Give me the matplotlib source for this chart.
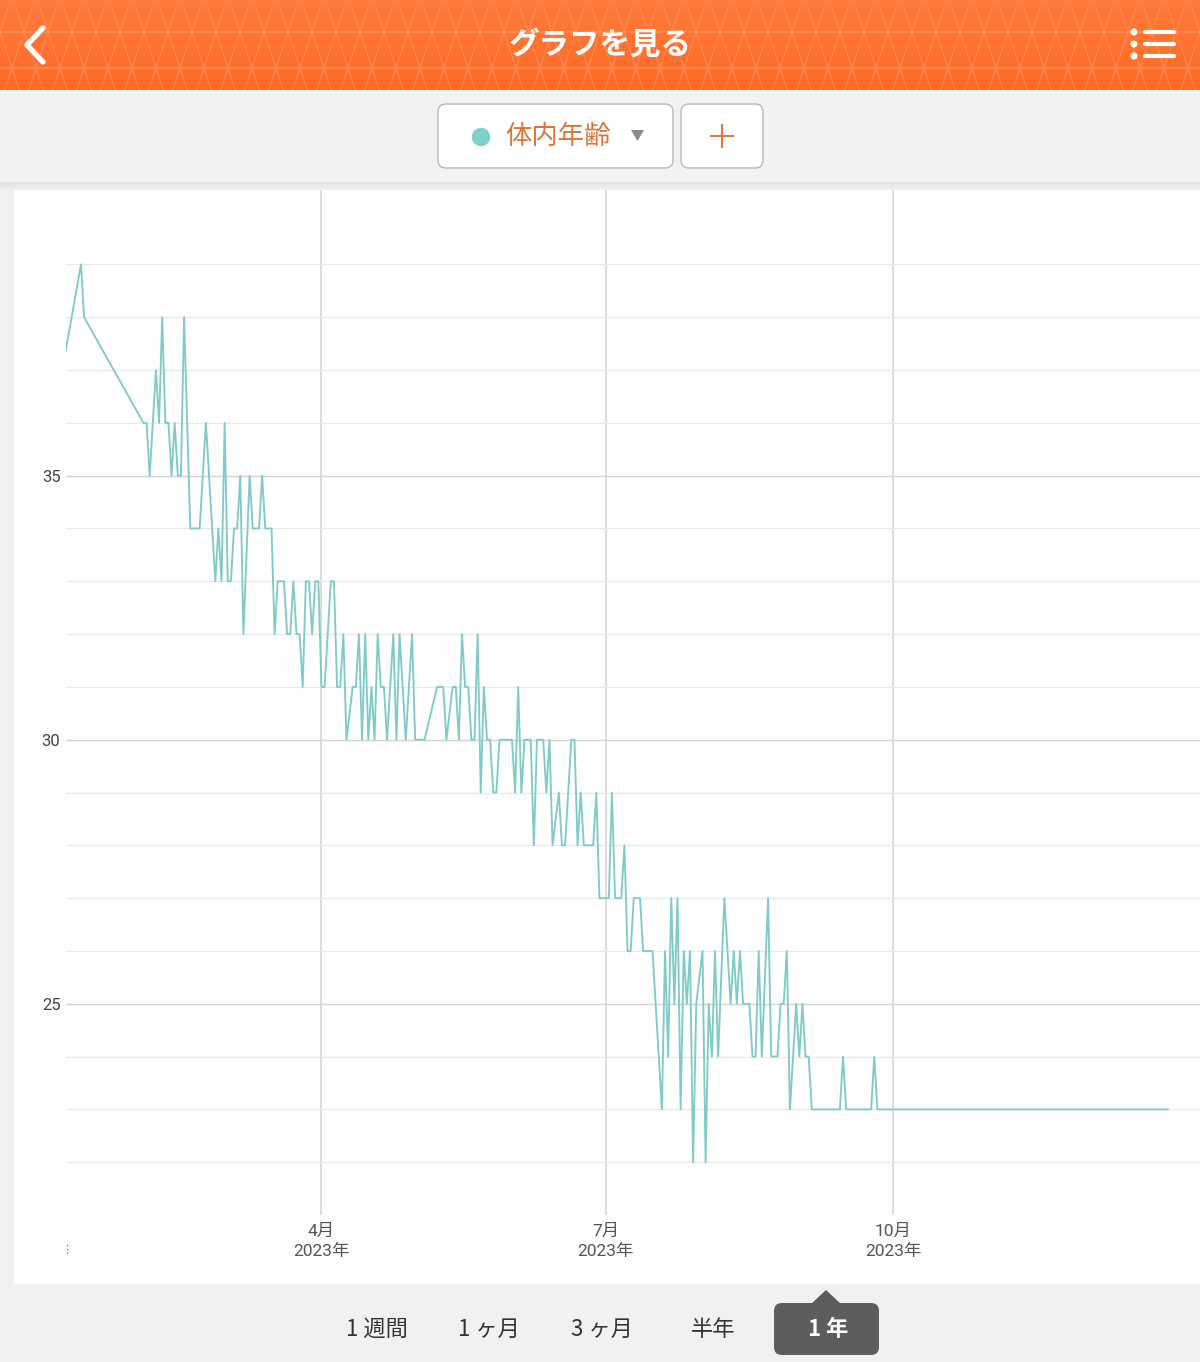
import numpy as np
import matplotlib
matplotlib.use('Agg')
import matplotlib.pyplot as plt
import matplotlib.dates as mdates
from matplotlib.patches import FancyBboxPatch, Rectangle, Circle, Polygon

# ---------------- data ----------------
base_date = '2023-01-01'
# day offsets from base_date
days = [4, 13, 14, 33, 34, 35, 37, 38, 39, 40, 41, 42, 43, 44, 45, 46, 48, 51, 52, 53,
        54, 56, 57, 58, 59, 60, 61, 62, 63, 64, 65, 67, 68, 70, 71, 72, 74, 75, 76, 78,
        79, 80, 81, 82, 83, 84, 85, 86, 87, 88, 89, 90, 91, 93, 94, 95, 96, 97, 98, 100,
        101, 102, 103, 104, 105, 106, 107, 108, 109, 110, 111, 113, 114, 115, 117, 119, 120, 123, 127, 129,
        130, 132, 133, 134, 135, 136, 137, 138, 139, 140, 141, 142, 143, 144, 145, 146, 147, 151, 152, 153,
        154, 155, 157, 158, 159, 161, 162, 163, 164, 166, 167, 168, 170, 171, 172, 173, 174, 177, 178, 179,
        182, 183, 184, 186, 187, 188, 189, 190, 192, 193, 196, 199, 200, 201, 202, 203, 204, 205, 206, 207,
        208, 209, 210, 212, 213, 214, 215, 216, 217, 219, 221, 222, 223, 224, 225, 227, 228, 229, 230, 231,
        233, 234, 236, 237, 238, 239, 240, 242, 243, 244, 245, 246, 247, 256, 257, 258, 266, 267, 268, 361]
values = [36, 39, 38, 36, 36, 35, 37, 36, 38, 36, 36, 35, 36, 35, 35, 38, 34, 34, 35, 36,
          35, 33, 34, 33, 36, 33, 33, 34, 34, 35, 32, 35, 34, 34, 35, 34, 34, 32, 33, 33,
          32, 32, 33, 32, 32, 31, 33, 33, 32, 33, 33, 31, 31, 33, 33, 31, 31, 32, 30, 31,
          31, 32, 30, 32, 30, 31, 30, 32, 31, 31, 30, 32, 30, 32, 30, 32, 30, 30, 31, 31,
          30, 31, 31, 30, 32, 31, 31, 30, 30, 32, 29, 31, 30, 30, 29, 29, 30, 30, 29, 31,
          29, 30, 30, 28, 30, 30, 29, 30, 28, 29, 28, 28, 30, 30, 28, 29, 28, 28, 29, 27,
          27, 29, 27, 27, 28, 26, 26, 27, 27, 26, 26, 23, 26, 24, 27, 25, 27, 23, 26, 25,
          26, 22, 25, 26, 22, 25, 24, 26, 24, 27, 25, 26, 25, 26, 25, 25, 24, 24, 26, 24,
          27, 24, 24, 25, 25, 26, 23, 25, 24, 25, 24, 24, 23, 23, 24, 23, 23, 24, 23, 23]
x_start_day = 8.2
x_end_day = 371.3
month_ticks = ['2023-04-01', '2023-07-01', '2023-10-01']
month_labels = ['4月\n2023年', '7月\n2023年', '10月\n2023年']
y_major = [25, 30, 35]
y_minor = list(range(22, 40))
y_range = (21.0, 40.41)
period_labels = ['1 週間', '1 ヶ月', '3 ヶ月', '半年', '1 年']
selected_period = '1 年'
metric_label = '体内年齢'
title = 'グラフを見る'

# ---------------- figure ----------------
W, H = 1200, 1362
fig = plt.figure(figsize=(W / 100, H / 100), dpi=100)
fig.patch.set_facecolor('#f1f1f2')
JP = ['Noto Sans CJK JP', 'DejaVu Sans']
RJ = ['Roboto', 'Noto Sans CJK JP', 'DejaVu Sans']

bg = fig.add_axes([0, 0, 1, 1])
bg.set_xlim(0, W)
bg.set_ylim(H, 0)
bg.axis('off')

# header
hdr = Rectangle((0, 0), W, 90, facecolor='#ff6f2c', edgecolor='none', zorder=1)
bg.add_patch(hdr)
grad = np.linspace(0, 1, 90).reshape(-1, 1) * np.ones((1, 10))
bg.imshow(grad, extent=(0, W, 90, 0), cmap=matplotlib.colors.LinearSegmentedColormap.from_list(
    'o', ['#ff7a3a', '#ff6a26']), aspect='auto', zorder=1.5, alpha=1.0)
for yy in (32, 68):
    bg.plot([0, W], [yy, yy], color='#ff8d58', lw=1.6, zorder=2, alpha=0.8)
for k in range(-10, 70):
    x0 = k * 24
    for sgn in (1, -1):
        ys = np.array([-10, 100])
        xs = x0 + sgn * (ys - 32) / 3.0
        ln, = bg.plot(xs, ys, color='#ff8d58', lw=1.1, zorder=2, alpha=0.7)
        ln.set_clip_path(hdr)
bg.set_xlim(0, W)
bg.set_ylim(H, 0)
bg.text(600, 45, title, color='white', fontsize=22, fontweight='bold', family=JP,
        ha='center', va='center', zorder=3)
bg.plot([43, 27, 43], [28, 45, 62], color='white', lw=3.8, solid_capstyle='round',
        solid_joinstyle='round', zorder=3)
for yy in (32, 44, 56):
    bg.add_patch(Circle((1134, yy), 2.8, color='white', zorder=3))
    bg.plot([1145, 1174], [yy, yy], color='white', lw=3.0, solid_capstyle='round', zorder=3)

# toolbar
bg.add_patch(Rectangle((0, 90), W, 92, facecolor='#f2f2f2', edgecolor='none', zorder=1))
for i in range(8):
    bg.add_patch(Rectangle((0, 182 + i), W, 1, facecolor='#000000', alpha=0.06 * (1 - i / 8),
                           edgecolor='none', zorder=1))
bg.add_patch(FancyBboxPatch((438, 104), 235, 64, boxstyle='round,pad=0,rounding_size=8',
                            facecolor='white', edgecolor='#b9b9b9', lw=1, zorder=2))
bg.add_patch(FancyBboxPatch((681, 104), 82, 64, boxstyle='round,pad=0,rounding_size=8',
                            facecolor='white', edgecolor='#b9b9b9', lw=1, zorder=2))
bg.add_patch(Circle((481, 137), 8.5, color='#7fcfcb', zorder=3))
bg.text(505, 137, metric_label, color='#d9773b', fontsize=19, family=JP,
        ha='left', va='center', zorder=3)
bg.add_patch(Polygon([(631, 130), (644, 130), (637.5, 141)], closed=True,
                     facecolor='#8a8a8a', edgecolor='none', zorder=3))
bg.plot([711, 733], [136, 136], color='#e27a40', lw=1.5, zorder=3)
bg.plot([722, 722], [125, 147], color='#e27a40', lw=1.5, zorder=3)

# chart card
bg.add_patch(Rectangle((14, 190), W - 14, 1094, facecolor='#fefefe', edgecolor='none', zorder=1))
bg.text(67, 1250, '⋮', fontsize=8, color='#666666', ha='center', va='center',
        family=['DejaVu Sans'], zorder=3)

# bottom period selector
px = [377, 489, 602, 713, 826]
bg.add_patch(FancyBboxPatch((774, 1303), 105, 52, boxstyle='round,pad=0,rounding_size=8',
                            facecolor='#5b5d5f', edgecolor='none', zorder=2))
bg.add_patch(Polygon([(811, 1304), (826, 1290), (841, 1304)], closed=True,
                     facecolor='#5b5d5f', edgecolor='none', zorder=2))
for lab, xx in zip(period_labels, px):
    if lab == selected_period:
        bg.text(xx + 2, 1329, lab, color='white', fontsize=16, fontweight='bold',
                family=JP, ha='center', va='center', zorder=3)
    else:
        bg.text(xx, 1329, lab, color='#333333', fontsize=16, family=JP,
                ha='center', va='center', zorder=3)

# ---------------- chart ----------------
ax = fig.add_axes([66 / W, 1 - 1215 / H, (W - 66) / W, (1215 - 190) / H])
ax.patch.set_alpha(0)
for s in ax.spines.values():
    s.set_visible(False)

b = mdates.date2num(np.datetime64(base_date))
xd = b + np.array(days, dtype=float)
ax.plot(xd, values, color='#80cbc7', lw=1.35, zorder=3)

ax.set_xlim(b + x_start_day, b + x_end_day)
ax.set_ylim(*y_range)

tick_x = [mdates.date2num(np.datetime64(t)) for t in month_ticks]
ax.set_xticks(tick_x)
ax.set_xticklabels(month_labels, family=RJ, fontsize=12.5, color='#555555', linespacing=1.4)
for t in ax.get_xticklabels():
    t.set_x(t.get_position()[0])
ax.set_yticks(y_major)
ax.set_yticklabels([str(v) for v in y_major], family=RJ, fontsize=12, color='#444444')
ax.set_yticks(y_minor, minor=True)
ax.tick_params(axis='both', which='both', length=0)
ax.tick_params(axis='x', pad=6)
ax.tick_params(axis='y', pad=4)
ax.grid(True, axis='y', which='minor', color='#e9e9e9', lw=0.9, zorder=0)
ax.grid(True, axis='y', which='major', color='#d4d4d4', lw=1.0, zorder=0)
ax.grid(True, axis='x', which='major', color='#d6d6d6', lw=1.2, zorder=0)

fig.savefig('out.png', dpi=100, facecolor=fig.get_facecolor())
